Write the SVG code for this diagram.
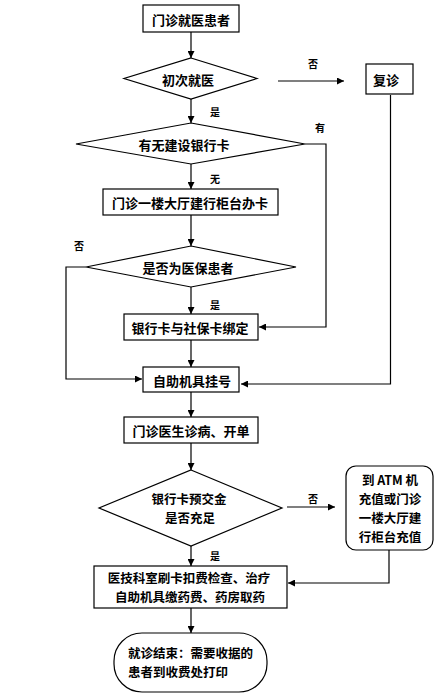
<svg xmlns="http://www.w3.org/2000/svg" width="440" height="694" viewBox="0 0 440 694">
<defs>
<marker id="ah" viewBox="0 0 10 10" refX="10" refY="5" markerWidth="7" markerHeight="7" orient="auto" markerUnits="userSpaceOnUse">
<path d="M0,0 L10,5 L0,10 z" fill="#000"/>
</marker>
<style>
.shape{fill:#fff;stroke:#000;stroke-width:1.2}
.edge{fill:none;stroke:#000;stroke-width:1.2}
.arr{fill:none;stroke:#000;stroke-width:1.2;marker-end:url(#ah)}
.t{font-family:"Noto Sans CJK SC","Liberation Sans",sans-serif;font-size:13px;font-weight:bold;fill:#000;text-anchor:middle;dominant-baseline:central}
.m{font-size:12.5px}
.tl{text-anchor:start}
.lbl{font-family:"Noto Sans CJK SC","Liberation Sans",sans-serif;font-size:10px;font-weight:bold;fill:#000;text-anchor:middle;dominant-baseline:central}
</style>
</defs>
<rect width="440" height="694" fill="#fff"/>
<g id="connectors">
<line class="arr" x1="191" y1="32" x2="191" y2="58"/>
<line class="arr" x1="278" y1="81" x2="344" y2="81"/>
<polyline class="arr" points="390.5,95 390.5,384 241,384"/>
<line class="arr" x1="191" y1="99" x2="191" y2="123"/>
<polyline class="arr" points="305,144 326,144 326,327 259,327"/>
<line class="arr" x1="191" y1="164" x2="191" y2="189"/>
<line class="arr" x1="191" y1="215" x2="191" y2="246"/>
<polyline class="arr" points="86,267 66,267 66,379 142,379"/>
<line class="arr" x1="191" y1="287" x2="191" y2="314"/>
<line class="arr" x1="191" y1="340" x2="191" y2="367"/>
<line class="arr" x1="191" y1="392" x2="191" y2="417"/>
<line class="arr" x1="191" y1="443" x2="191" y2="470"/>
<line class="arr" x1="287" y1="507" x2="335" y2="507"/>
<polyline class="arr" points="389,550 389,583 288,583"/>
<line class="arr" x1="191" y1="546" x2="191" y2="566"/>
<line class="arr" x1="191" y1="608" x2="191" y2="633"/>
</g>
<g id="n1"><rect class="shape" x="143" y="5" width="96" height="27"/><text class="t" x="191" y="19">门诊就医患者</text></g>
<g id="n2"><polygon class="shape" points="191,58 257,78.5 191,99 124,78.5"/><text class="t" x="188" y="79">初次就医</text></g>
<g id="n3"><rect class="shape" x="366" y="64" width="47" height="30"/><text class="t" x="386" y="79">复诊</text></g>
<g id="n4"><polygon class="shape" points="191,123 305,144 191,164 76,144"/><text class="t" x="184" y="144">有无建设银行卡</text></g>
<g id="n5"><rect class="shape" x="103" y="189" width="175" height="26"/><text class="t" x="190" y="202">门诊一楼大厅建行柜台办卡</text></g>
<g id="n6"><polygon class="shape" points="191,246 296,267 191,287 86,267"/><text class="t" x="188" y="267">是否为医保患者</text></g>
<g id="n7"><rect class="shape" x="124" y="314" width="134" height="26"/><text class="t" x="190" y="327">银行卡与社保卡绑定</text></g>
<g id="n8"><rect class="shape" x="143" y="367" width="96" height="25"/><text class="t" x="192" y="380">自助机具挂号</text></g>
<g id="n9"><rect class="shape" x="124" y="417" width="134" height="26"/><text class="t" x="191" y="430">门诊医生诊病、开单</text></g>
<g id="n10"><polygon class="shape" points="191,470 282,508 191,546 99,508"/><text class="t m" x="189" y="498">银行卡预交金</text><text class="t m" x="190" y="517">是否充足</text></g>
<g id="n11"><rect class="shape" x="346" y="466" width="87" height="84" rx="10" ry="10"/><text class="t m" x="390" y="479">到 ATM 机</text><text class="t m" x="390" y="498">充值或门诊</text><text class="t m" x="390" y="517">一楼大厅建</text><text class="t m" x="390" y="536">行柜台充值</text></g>
<g id="n12"><rect class="shape" x="94" y="566" width="193" height="42"/><text class="t m" x="189" y="577.5">医技科室刷卡扣费检查、治疗</text><text class="t m" x="190" y="596.5">自助机具缴药费、药房取药</text></g>
<g id="n13"><rect class="shape" x="114" y="633" width="153" height="59" rx="28" ry="28"/><text class="t m tl" x="128" y="652">就诊结束：需要收据的</text><text class="t m tl" x="128" y="671">患者到收费处打印</text></g>
<g id="labels">
<text class="lbl" x="313" y="63">否</text>
<text class="lbl" x="215" y="111">是</text>
<text class="lbl" x="320" y="127">有</text>
<text class="lbl" x="215" y="178">无</text>
<text class="lbl" x="79" y="245">否</text>
<text class="lbl" x="215" y="304">是</text>
<text class="lbl" x="313" y="498">否</text>
<text class="lbl" x="215" y="555">是</text>
</g>
</svg>
